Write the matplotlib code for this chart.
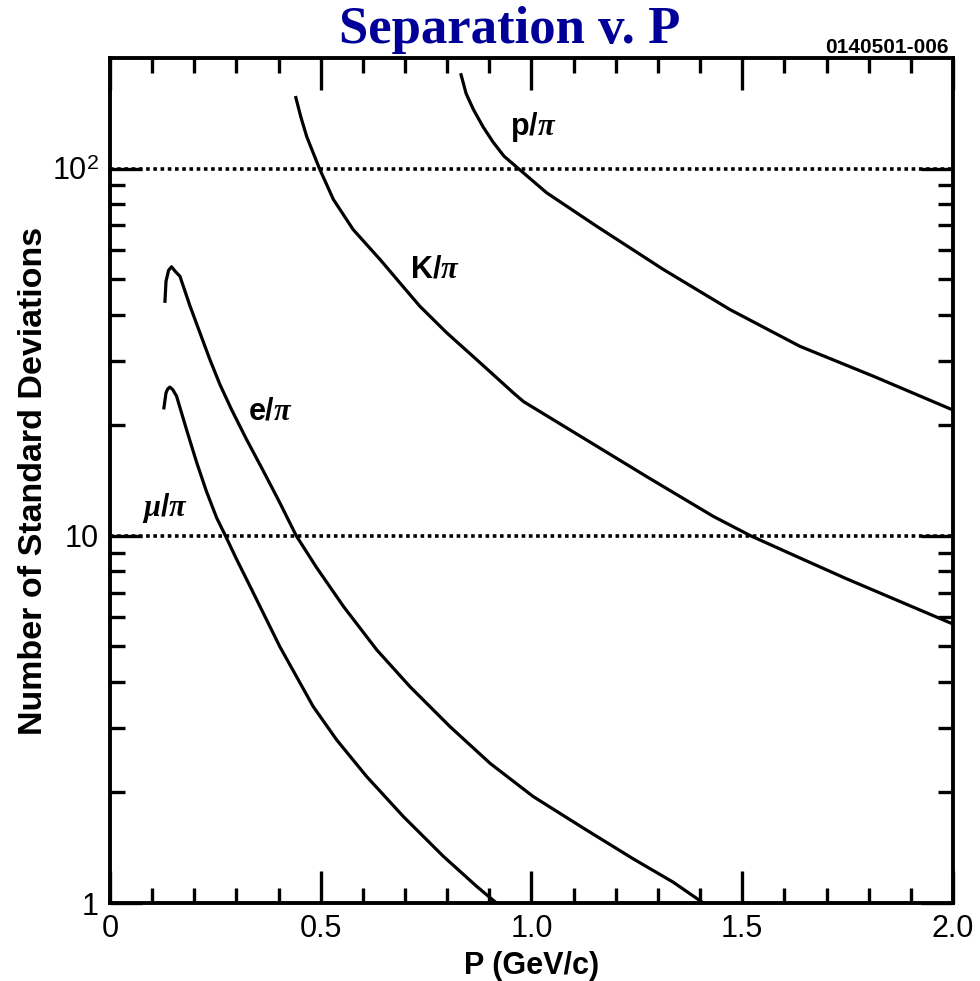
import matplotlib
matplotlib.use('Agg')
from matplotlib import pyplot as plt
from matplotlib.ticker import FixedLocator, FixedFormatter, NullFormatter

plt.rcParams['font.family'] = ['Liberation Sans', 'DejaVu Sans']
# greek letters in bold italic serif, digits in sans
plt.rcParams['mathtext.fontset'] = 'custom'
plt.rcParams['mathtext.it'] = 'Liberation Serif:italic:bold'
plt.rcParams['mathtext.rm'] = 'Liberation Sans'
plt.rcParams['mathtext.bf'] = 'Liberation Sans:bold'

# separation curves (momentum in GeV/c, number of standard deviations)
mu_p = [0.128, 0.133, 0.137, 0.142, 0.149, 0.158, 0.182, 0.206, 0.229, 0.253, 0.274, 0.30, 0.332, 0.364,
        0.403, 0.482, 0.538, 0.609, 0.696, 0.791, 0.870, 0.917]
mu_n = [22.3, 24.5, 25.1, 25.4, 25.0, 24.0, 19.4, 15.8, 13.2, 11.2, 10.0, 8.65, 7.3, 6.15,
        4.99, 3.43, 2.78, 2.21, 1.72, 1.34, 1.11, 1.0]

e_p = [0.1305, 0.133, 0.139, 0.146, 0.156, 0.166, 0.190, 0.2135, 0.237, 0.261, 0.289, 0.324, 0.364, 0.403,
       0.442, 0.490, 0.554, 0.633, 0.712, 0.807, 0.902, 1.004, 1.123, 1.241, 1.336, 1.408]
e_n = [43.5, 49.3, 52.8, 54.0, 52.3, 50.9, 42.2, 35.7, 30.2, 25.8, 22.0, 18.3, 15.0, 12.3,
       10.0, 8.2, 6.42, 4.89, 3.88, 3.02, 2.40, 1.95, 1.60, 1.32, 1.14, 1.0]

k_p = [0.441, 0.453, 0.467, 0.497, 0.530, 0.577, 0.641, 0.688, 0.735, 0.799, 0.878, 0.957, 0.981,
       1.115, 1.273, 1.431, 1.52, 1.637, 1.746, 2.0]
k_n = [156, 138, 122, 100, 82.4, 68.2, 56.5, 48.8, 42.2, 35.7, 29.6, 24.5, 23.2,
       18.7, 14.5, 11.3, 10.0, 8.7, 7.65, 5.75]

p_p = [0.833, 0.845, 0.862, 0.885, 0.909, 0.935, 0.969, 1.036, 1.155, 1.313, 1.471, 1.637, 1.811, 2.0]
p_n = [180, 160, 145, 130, 118, 108, 100, 85.9, 69.6, 53.1, 41.3, 32.8, 27.2, 22.0]

curve_labels = ['p/', 'K/', 'e/', r'$\mu$/']
label_pos = [(1.004, 130), (0.771, 53.0), (0.38, 21.8), (0.13, 11.9)]

fig = plt.figure(figsize=(9.8, 9.81), dpi=100)
ax = fig.add_axes([0.1122, 0.0795, 0.8602, 0.8614])

for xs, ys in [(mu_p, mu_n), (e_p, e_n), (k_p, k_n), (p_p, p_n)]:
    ax.plot(xs, ys, color='black', lw=2.3, solid_joinstyle='round')

for lvl in [10, 100]:
    ax.axhline(lvl, color='black', lw=2.6, linestyle=(0, (1, 1)))

for txt, (x, y) in zip(curve_labels, label_pos):
    ax.text(x, y, txt + r'$\pi$', fontsize=22, fontweight='bold', ha='center', va='center')

ax.set_xlim(0, 2.0)
ax.set_yscale('log')
ax.set_ylim(1, 200)

ax.xaxis.set_major_locator(FixedLocator([0, 0.5, 1.0, 1.5, 2.0]))
ax.xaxis.set_major_formatter(FixedFormatter(['0', '0.5', '1.0', '1.5', '2.0']))
ax.xaxis.set_minor_locator(FixedLocator([i / 10 for i in range(1, 20)]))
ax.yaxis.set_major_locator(FixedLocator([1, 10, 100]))
ax.yaxis.set_major_formatter(FixedFormatter(['1', '10', r'10$^{2}$']))
ax.yaxis.set_minor_locator(FixedLocator([m * d for d in [1, 10, 100] for m in range(2, 10) if m * d < 200]))
ax.yaxis.set_minor_formatter(NullFormatter())

ax.tick_params(which='both', direction='in', top=True, right=True, width=2.4, color='black')
ax.tick_params(which='major', length=23, labelsize=22, pad=8)
ax.tick_params(which='minor', length=11)
for s in ax.spines.values():
    s.set_linewidth(2.8)

ax.set_xlabel('P (GeV/c)', fontsize=22, fontweight='bold', labelpad=5)
ax.set_ylabel('Number of Standard Deviations', fontsize=24.5, fontweight='bold', labelpad=2)

fig.text(0.52, 0.969, 'Separation v. P', family='Liberation Serif', fontweight='bold',
         fontsize=38, color='#000099', ha='center', va='center')
fig.text(0.968, 0.952, '0140501-006', fontsize=15, fontweight='bold', ha='right', va='center')

fig.savefig('out.png', dpi=100)
